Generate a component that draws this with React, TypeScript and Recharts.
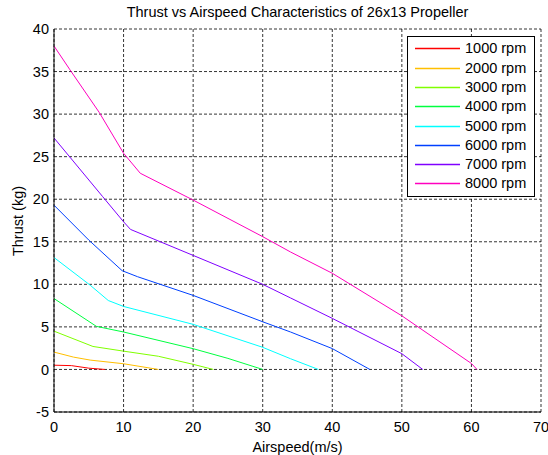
import React from 'react';
import { LineChart, Line, XAxis, YAxis, CartesianGrid } from 'recharts';

// airspeed (m/s) and thrust (kg), one pair of arrays per rpm
const airspeed1000 = [0, 2.5, 5, 7.3];
const thrust1000 = [0.5, 0.45, 0.15, 0];

const airspeed2000 = [0, 2.8, 5.2, 10, 15];
const thrust2000 = [2.04, 1.45, 1.1, 0.67, 0];

const airspeed3000 = [0, 5.6, 10, 15, 20, 22.9];
const thrust3000 = [4.5, 2.7, 2.15, 1.55, 0.6, 0];

const airspeed4000 = [0, 6.1, 10, 20, 25, 30];
const thrust4000 = [8.33, 5.06, 4.4, 2.44, 1.3, 0];

const airspeed5000 = [0, 5.2, 7.8, 10, 20, 30, 34, 38];
const thrust5000 = [13.15, 9.9, 8.1, 7.4, 5.3, 2.6, 1.26, 0];

const airspeed6000 = [0, 5, 9.8, 12, 20, 30, 34, 40, 45.4];
const thrust6000 = [19.3, 15.2, 11.6, 10.9, 8.7, 5.6, 4.4, 2.45, 0];

const airspeed7000 = [0, 7, 10, 11, 20, 30, 34, 40, 50, 53];
const thrust7000 = [27.2, 20.3, 17.35, 16.45, 13.4, 10.0, 8.4, 6.0, 1.85, 0];

const airspeed8000 = [0, 2.3, 6.5, 10, 12.4, 20, 30, 34, 40, 50, 60, 60.8];
const thrust8000 = [38.0, 35.2, 30.2, 25.4, 23.05, 19.9, 15.6, 13.8, 11.3, 6.3, 0.7, 0];

const rpmLabels = ['1000 rpm', '2000 rpm', '3000 rpm', '4000 rpm', '5000 rpm', '6000 rpm', '7000 rpm', '8000 rpm'];
const xTicks = [0, 10, 20, 30, 40, 50, 60, 70];
const yTicks = [-5, 0, 5, 10, 15, 20, 25, 30, 35, 40];

const colors = ['#ff0000', '#ffbf00', '#80ff00', '#00ff40', '#00ffff', '#0040ff', '#8000ff', '#ff00bf'];

const toPoints = (xs: number[], ys: number[]) => xs.map((x, i) => ({ airspeed: x, thrust: ys[i] }));

const series = [
  toPoints(airspeed1000, thrust1000),
  toPoints(airspeed2000, thrust2000),
  toPoints(airspeed3000, thrust3000),
  toPoints(airspeed4000, thrust4000),
  toPoints(airspeed5000, thrust5000),
  toPoints(airspeed6000, thrust6000),
  toPoints(airspeed7000, thrust7000),
  toPoints(airspeed8000, thrust8000),
];

const font = '"Liberation Sans", Arial, sans-serif';

const App: React.FC = () => {
  return (
    <div style={{ position: 'absolute', left: 0, top: 0, width: 548, height: 455, background: '#fff', fontFamily: font }}>
      <LineChart width={548} height={455} margin={{ top: 29, right: 7, bottom: 13, left: 0 }}>
        <CartesianGrid stroke="#000" strokeDasharray="3 2" strokeWidth={0.8} />
        <XAxis
          type="number"
          dataKey="airspeed"
          domain={[0, 70]}
          ticks={xTicks}
          interval={0}
          height={30}
          tickLine={false}
          tickSize={0}
          tickMargin={10}
          axisLine={{ stroke: '#000' }}
          tick={{ fill: '#000', fontSize: 14.5, fontFamily: font }}
        />
        <YAxis
          type="number"
          domain={[-5, 40]}
          ticks={yTicks}
          interval={0}
          width={54}
          tickLine={false}
          tickSize={0}
          tickMargin={5}
          axisLine={{ stroke: '#000' }}
          tick={{ fill: '#000', fontSize: 14.5, fontFamily: font }}
        />
        {series.map((data, i) => (
          <Line
            key={rpmLabels[i]}
            data={data}
            dataKey="thrust"
            type="linear"
            stroke={colors[i]}
            strokeWidth={1}
            dot={false}
            activeDot={false}
            isAnimationActive={false}
          />
        ))}
      </LineChart>

      {/* title and axis labels */}
      <div style={{ position: 'absolute', left: 0, width: 595, top: 4, textAlign: 'center', fontSize: 14.5, color: '#000' }}>
        Thrust vs Airspeed Characteristics of 26x13 Propeller
      </div>
      <div style={{ position: 'absolute', left: 0, width: 595, top: 439, textAlign: 'center', fontSize: 14.5, color: '#000' }}>
        Airspeed(m/s)
      </div>
      <div
        style={{
          position: 'absolute', left: 18, top: 221, fontSize: 14.5, color: '#000', whiteSpace: 'nowrap',
          transform: 'translate(-50%, -50%) rotate(-90deg)',
        }}
      >
        Thrust (kg)
      </div>

      {/* legend */}
      <div style={{ position: 'absolute', left: 407, top: 36, width: 126, height: 159, border: '1px solid #000', background: '#fff' }}>
        <svg width={56} height={159} style={{ position: 'absolute', left: 0, top: 0 }}>
          {rpmLabels.map((label, i) => {
            const cy = Math.round(11.3 + i * 19.3) + 0.5;
            return <line key={label} x1={7} x2={52} y1={cy} y2={cy} stroke={colors[i]} strokeWidth={1.6} />;
          })}
        </svg>
        {rpmLabels.map((label, i) => {
          const cy = Math.round(11.3 + i * 19.3);
          return (
            <div key={label} style={{ position: 'absolute', left: 57, top: cy - 9, height: 18, lineHeight: '18px', fontSize: 14.5, color: '#000', whiteSpace: 'nowrap' }}>
              {label}
            </div>
          );
        })}
      </div>
    </div>
  );
};

export default App;
